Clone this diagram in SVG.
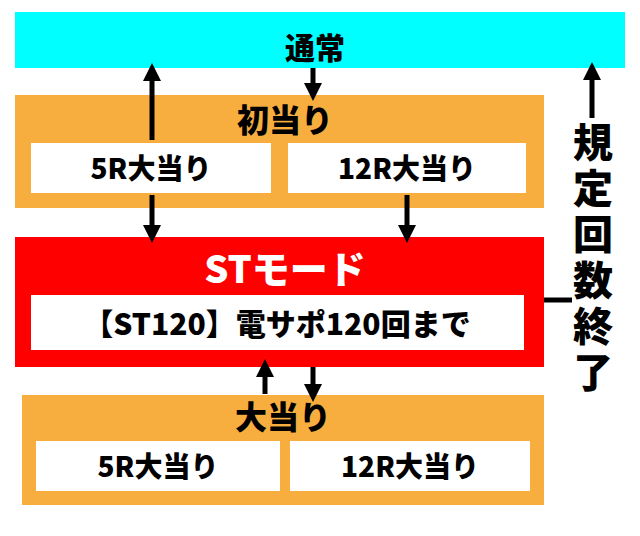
<svg xmlns="http://www.w3.org/2000/svg" width="640" height="536" viewBox="0 0 640 536">
<style>
.o{fill:#F7AE3F}
.w{fill:#fff}
.t{font-family:"Noto Sans CJK JP","Noto Sans",sans-serif;font-weight:900;text-anchor:middle;fill:#000}
.c{stroke:#000;stroke-width:5;fill:none}
</style>
<defs>
<marker id="a" viewBox="0 0 10 10" refX="5" refY="5" markerWidth="3.6" markerHeight="3.6" orient="auto-start-reverse"><path d="M0,0L10,5L0,10z" fill="#000"/></marker>
</defs>
<rect width="640" height="536" fill="#fff"/>
<g id="tsujo"><rect x="15" y="12" width="610" height="56" fill="#00FFFF"/><text class="t" x="315" y="59" font-size="30">通常</text></g>
<g id="hatsuatari"><rect class="o" x="15" y="95" width="529" height="113"/><text class="t" x="285" y="132" font-size="32">初当り</text>
<rect class="w" x="31" y="143" width="240" height="50"/><text class="t" x="151" y="179" font-size="28">5R大当り</text>
<rect class="w" x="288" y="143" width="238" height="50"/><text class="t" x="407" y="179" font-size="28">12R大当り</text></g>
<g id="st"><rect x="15" y="237" width="529" height="130" fill="#FF0000"/><text class="t" x="285" y="283" font-size="38" style="fill:#fff">STモード</text>
<rect class="w" x="31" y="295" width="493" height="55"/><text class="t" x="277" y="335" font-size="30">【ST120】電サポ120回まで</text></g>
<g id="oatari"><rect class="o" x="22" y="395" width="522" height="110"/><text class="t" x="283" y="429" font-size="32">大当り</text>
<rect class="w" x="36" y="441" width="244" height="50"/><text class="t" x="158" y="477" font-size="28">5R大当り</text>
<rect class="w" x="290" y="441" width="240" height="50"/><text class="t" x="410" y="477" font-size="28">12R大当り</text></g>
<g id="label"><text class="t" x="593" y="122" font-size="40" letter-spacing="6" writing-mode="vertical-rl" style="text-anchor:start">規定回数終了</text></g>
<g id="connectors">
<line class="c" x1="313" y1="68" x2="313" y2="92" marker-end="url(#a)"/>
<line class="c" x1="152" y1="140" x2="152" y2="72" marker-end="url(#a)"/>
<line class="c" x1="152" y1="195" x2="152" y2="234" marker-end="url(#a)"/>
<line class="c" x1="407" y1="195" x2="407" y2="234" marker-end="url(#a)"/>
<line class="c" x1="265" y1="394" x2="265" y2="368" marker-end="url(#a)"/>
<line class="c" x1="313" y1="367" x2="313" y2="393" marker-end="url(#a)"/>
<line class="c" x1="592" y1="118" x2="592" y2="71" marker-end="url(#a)"/>
<line class="c" x1="544" y1="300" x2="572" y2="300"/>
</g>
</svg>
